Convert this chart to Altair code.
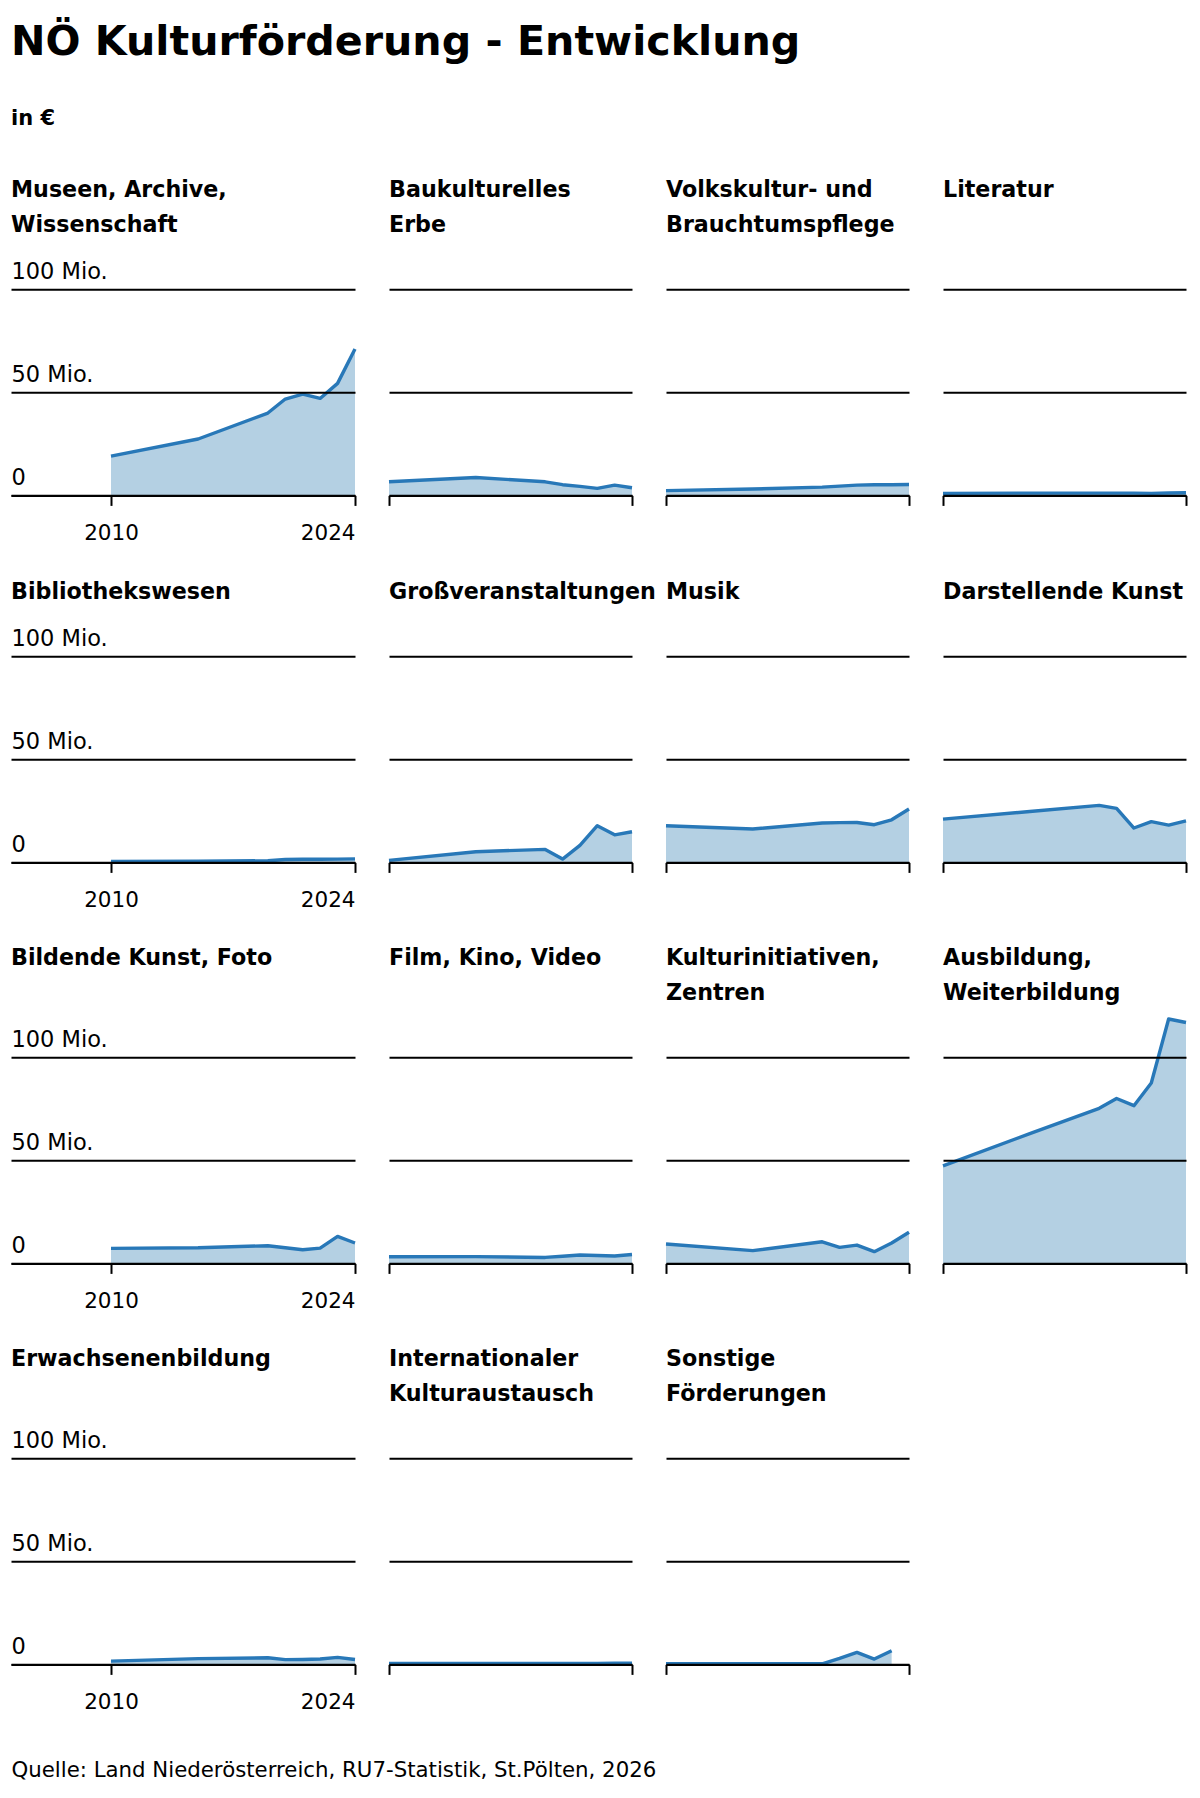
import altair as alt
import pandas as pd

# ---------------- data (Mio. €) ----------------
YEARS = [2010, 2015, 2019, 2020, 2021, 2022, 2023, 2024]

museen = [19.1, 27.4, 40.0, 46.8, 49.2, 47.1, 54.4, 71.1]
baukultur = [6.6, 8.7, 6.6, 5.2, 4.4, 3.4, 5.0, 3.7]
volkskultur = [2.3, 3.1, 4.0, 4.5, 5.0, 5.2, 5.2, 5.3]
literatur = [1.0, 1.1, 1.1, 1.1, 1.1, 1.0, 1.2, 1.3]
bibliothek = [0.5, 0.6, 0.8, 1.4, 1.5, 1.5, 1.6, 1.7]
grossveranst = [1.0, 5.2, 6.3, 1.6, 8.3, 17.8, 13.4, 14.9]
musik = [17.8, 16.2, 19.1, 19.3, 19.4, 18.3, 20.7, 25.9]
darstellend = [21.0, 24.7, 27.7, 26.2, 16.7, 19.8, 18.1, 20.2]
bildend = [7.3, 7.6, 8.6, 7.6, 6.6, 7.4, 13.1, 9.9]
film = [3.2, 3.3, 2.9, 3.5, 4.1, 3.8, 3.6, 4.3]
kulturinit = [9.4, 6.2, 10.5, 7.8, 8.9, 5.7, 9.9, 15.1]
ausbildung = [47.4, 63.0, 75.3, 80.1, 76.6, 87.6, 118.7, 117.0]
erwachsenen = [1.6, 2.8, 3.2, 2.3, 2.4, 2.6, 3.4, 2.4]
international = [0.4, 0.4, 0.4, 0.5, 0.5, 0.5, 0.6, 0.6]
sonstige = [0.3, 0.3, 0.3, 2.9, 5.8, 2.6, 6.6]  # no 2024 value

TITLES = [
    ["Museen, Archive,", "Wissenschaft"],
    ["Baukulturelles", "Erbe"],
    ["Volkskultur- und", "Brauchtumspflege"],
    ["Literatur", ""],
    ["Bibliothekswesen"],
    ["Großveranstaltungen"],
    ["Musik"],
    ["Darstellende Kunst"],
    ["Bildende Kunst, Foto", ""],
    ["Film, Kino, Video", ""],
    ["Kulturinitiativen,", "Zentren"],
    ["Ausbildung,", "Weiterbildung"],
    ["Erwachsenenbildung", ""],
    ["Internationaler", "Kulturaustausch"],
    ["Sonstige", "Förderungen"],
]
SERIES = [museen, baukultur, volkskultur, literatur,
          bibliothek, grossveranst, musik, darstellend,
          bildend, film, kulturinit, ausbildung,
          erwachsenen, international, sonstige]

Y_TICKS = [0, 50, 100]
X_TICKS = [2010, 2024]
SOURCE = "Quelle: Land Niederösterreich, RU7-Statistik, St.Pölten, 2026"

# ---------------- style ----------------
FONT = "DejaVu Sans"
LINE = "#2878b8"
FILL = "#b4d0e3"
H = 247.1
W_FIRST = 344
W = 243
X0_FIRST = 2024 - 14 * W_FIRST / 244.0


def panel(idx, col, footer=False):
    vals = SERIES[idx]
    df = pd.DataFrame({"Jahr": YEARS[:len(vals)], "Mio": vals})
    first = col == 0
    xdom = [X0_FIRST, 2024] if first else [2010, 2024]

    xaxis_kw = dict(
        values=X_TICKS, format="d", grid=False,
        domain=True, domainColor="black", domainWidth=2,
        ticks=True, tickColor="black", tickWidth=2, tickSize=10,
        labels=first, labelFont=FONT, labelFontSize=21.5, labelColor="black",
        labelPadding=17, labelFlush=True, zindex=1,
    )
    if footer:
        xaxis_kw.update(
            title=SOURCE, titleFont=FONT, titleFontSize=21.3, titleFontWeight="normal",
            titleColor="black", titleAnchor="start", titleAlign="left",
            titleBaseline="alphabetic", titleX=0, titleY=112, titleAngle=0,
        )
    else:
        xaxis_kw.update(title=None)
    xaxis = alt.Axis(**xaxis_kw)

    yaxis = alt.Axis(
        values=Y_TICKS, grid=True, gridColor="black", gridWidth=2, gridOpacity=1,
        domain=False, ticks=False, tickSize=0,
        labels=first, labelExpr="datum.value == 0 ? '0' : datum.value + ' Mio.'",
        labelAlign="left", labelBaseline="alphabetic", labelPadding=0, labelOffset=-10.5,
        labelFont=FONT, labelFontSize=22.5, labelColor="black", labelFlush=False,
        title=None, zindex=1,
    )

    base = alt.Chart(df).encode(
        x=alt.X("Jahr:Q", scale=alt.Scale(domain=xdom, nice=False, zero=False), axis=xaxis),
        y=alt.Y("Mio:Q", scale=alt.Scale(domain=[0, 120], nice=False), axis=yaxis),
    )
    area = base.mark_area(color=FILL, opacity=1)
    line = base.mark_line(color=LINE, strokeWidth=3.4, strokeJoin="round")
    return alt.layer(area, line).properties(
        width=W_FIRST if first else W,
        height=H,
        title=alt.TitleParams(
            text=TITLES[idx], anchor="start", frame="group", baseline="top",
            offset=12.2, font=FONT, fontSize=22.2, fontWeight="bold",
            color="black", lineHeight=34.4,
        ),
    )


ROWS = [[0, 1, 2, 3], [4, 5, 6, 7], [8, 9, 10, 11], [12, 13, 14]]
rows = []
for r, idxs in enumerate(ROWS):
    cells = [panel(i, c, footer=(r == 3 and c == 0)) for c, i in enumerate(idxs)]
    rows.append(
        alt.hconcat(*cells, spacing=34, bounds="flush")
        .resolve_scale(x="independent", y="independent")
    )

chart = (
    alt.vconcat(*rows, spacing=36.0, bounds="full")
    .resolve_scale(x="independent", y="independent")
    .properties(
        title=alt.TitleParams(
            text="NÖ Kulturförderung - Entwicklung", subtitle="in €",
            anchor="start", frame="group", offset=50.3,
            font=FONT, fontSize=41.2, fontWeight="bold", color="black",
            subtitleFont=FONT, subtitleFontSize=21, subtitleFontWeight="bold",
            subtitleColor="black", subtitlePadding=44.9,
        ),
        padding={"left": 11, "top": 21.3, "right": 12, "bottom": 20},
        background="white",
    )
    .configure_view(stroke=None)
)

chart.save("out.html", embed_options={"renderer": "svg", "actions": False})
